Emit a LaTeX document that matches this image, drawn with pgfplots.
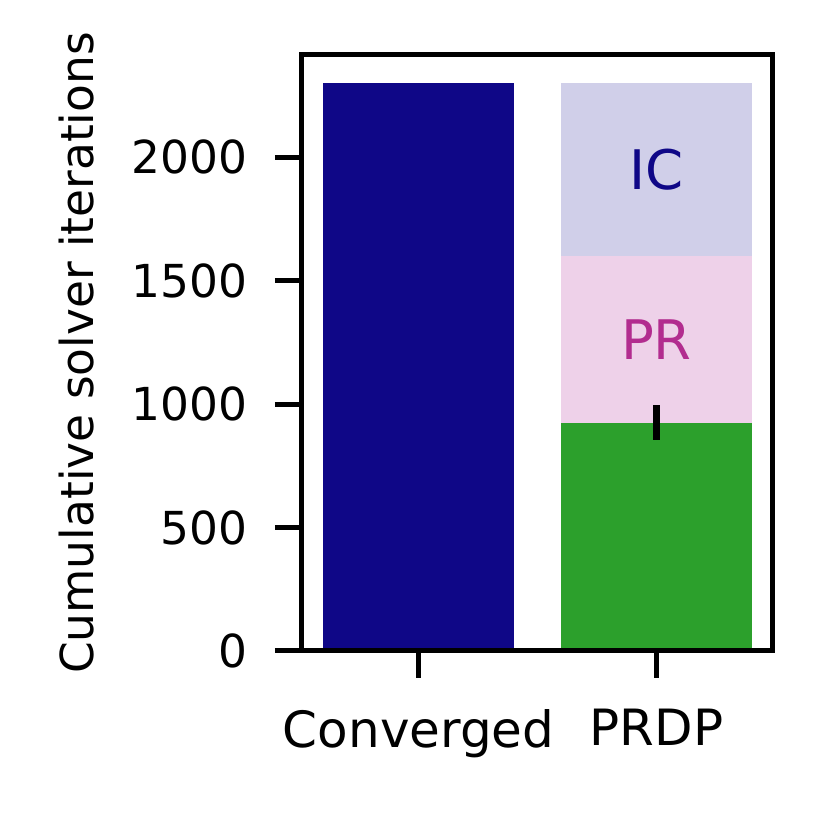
\documentclass[border=0pt]{standalone}
\usepackage{fontspec}
\setmainfont{DejaVu Sans}
\usepackage{pgfplots}
\pgfplotsset{compat=1.18}
\definecolor{navy}{HTML}{0F0787}
\definecolor{prdpgreen}{HTML}{2CA02C}
\definecolor{prbg}{HTML}{EED1E9}
\definecolor{icbg}{HTML}{D0CFE9}
\definecolor{prtext}{HTML}{B22C8F}

\begin{document}
\begin{tikzpicture}
\begin{axis}[
    name=ax,
    ybar,
    bar width=0.8,
    scale only axis,
    width=103.62pt,
    height=131.12pt,
    xmin=-0.49, xmax=1.49,
    ymin=0, ymax=2415,
    xtick={0,1},
    xticklabels={Converged, PRDP},
    ytick={0,500,1000,1500,2000},
    tick align=outside,
    xtick pos=bottom,
    ytick pos=left,
    major tick length=5.94pt,
    every tick/.style={black, line width=1.1pt},
    axis line style={line width=1.1pt},
    axis on top,
    /pgf/number format/assume math mode=true,
    /pgf/number format/1000 sep={},
    tick label style={font=\fontsize{10}{12}\selectfont},
    yticklabel style={xshift=-2.6pt},
    xticklabel style={font=\fontsize{11}{13}\selectfont, yshift=-3.4pt},
    ylabel={Cumulative solver iterations},
    every axis y label/.style={at={(rel axis cs:0,0.5)}, xshift=-49.7pt,
        rotate=90, anchor=center, font=\fontsize{10}{12}\selectfont},
]

% cumulative totals, drawn back to front
\addplot[bar shift=0pt, fill=navy, draw=none] coordinates {(0,2300)};
\addplot[bar shift=0pt, fill=icbg, draw=none] coordinates {(1,2300)};
\addplot[bar shift=0pt, fill=prbg, draw=none] coordinates {(1,1600)};
\addplot[bar shift=0pt, fill=prdpgreen, draw=none,
    error bars/.cd, y dir=both, y explicit, error mark=none,
    error bar style={line width=1.54pt, black}]
    coordinates {(1,925) +- (0,70)};

\node[text=navy, font=\fontsize{12}{14}\selectfont] at (axis cs:1,1950) {IC};
\node[text=prtext, font=\fontsize{12}{14}\selectfont] at (axis cs:1,1262) {PR};
\end{axis}
\path[use as bounding box] ([xshift=-66.44pt,yshift=-35.64pt]ax.south west)
    rectangle ([xshift=115.94pt,yshift=143.22pt]ax.south west);
\end{tikzpicture}
\end{document}
